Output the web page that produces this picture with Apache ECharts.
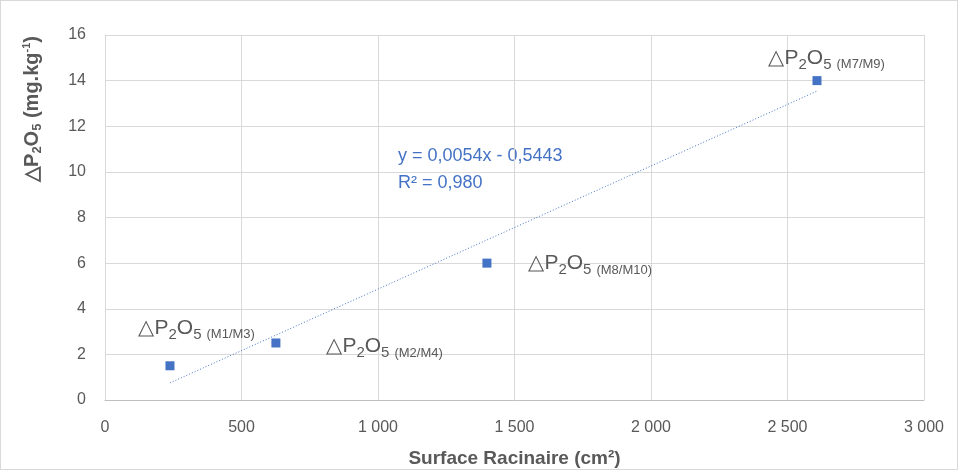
<!DOCTYPE html>
<html>
<head>
<meta charset="utf-8">
<script src="https://cdn.jsdelivr.net/npm/echarts@6/dist/echarts.min.js"></script>
<style>
  html, body { margin: 0; padding: 0; background: #fff; }
  #box { width: 956px; height: 468px; border: 1px solid #d9d9d9; }
</style>
</head>
<body>
<div id="box"></div>
<script>
var dom = document.getElementById("box");
var myChart = echarts.init(dom);

// valeurs
var surface = [238, 626, 1399, 2608];
var deltaP = [1.5, 2.5, 6, 14];
var pointNames = ['M1/M3', 'M2/M4', 'M8/M10', 'M7/M9'];
// décalage des étiquettes par rapport au point
var labelPos = [[-27, -33], [55, 8], [46, 5], [-44, -18]];
// extrémités de la courbe de tendance
var trendX = [238, 2608];
var trendY = [0.75, 13.54];
var equation = 'y = 0,0054x - 0,5443';
var r2 = 'R² = 0,980';

var gray = '#595959';
var blue = '#4472c4';
var font = 'Liberation Sans';

var richLabel = {
    a: { fontSize: 21, color: gray, fontFamily: font },
    s: { fontSize: 15, color: gray, fontFamily: font, padding: [13, 0, 0, 0] },
    m: { fontSize: 13, color: gray, fontFamily: font, padding: [13, 0, 0, 5] }
};

var scatterData = surface.map(function (x, i) {
    return {
        value: [x, deltaP[i]],
        label: {
            show: true,
            position: labelPos[i],
            align: 'left',
            verticalAlign: 'middle',
            formatter: '{a|△P}{s|2}{a|O}{s|5}{m|(' + pointNames[i] + ')}',
            rich: richLabel
        }
    };
});

var option = {
    animation: false,
    textStyle: { fontFamily: font },
    grid: { left: 104, right: 33, top: 34, bottom: 69, outerBoundsMode: 'none', containLabel: false },
    xAxis: {
        type: 'value',
        min: 0, max: 3000, interval: 500,
        name: 'Surface Racinaire (cm²)',
        nameLocation: 'middle',
        nameGap: 49,
        nameTextStyle: { color: gray, fontSize: 19, fontWeight: 'bold', fontFamily: font },
        axisLine: { show: true, lineStyle: { color: '#bfbfbf' } },
        axisTick: { show: false },
        axisLabel: {
            color: gray, fontSize: 16, margin: 20,
            formatter: function (v) {
                return v >= 1000 ? Math.floor(v / 1000) + ' ' + String(v % 1000).padStart(3, '0') : String(v);
            }
        },
        splitLine: { show: true, lineStyle: { color: '#d9d9d9' } }
    },
    yAxis: {
        type: 'value',
        min: 0, max: 16, interval: 2,
        axisLine: { show: true, lineStyle: { color: '#d9d9d9' } },
        axisTick: { show: false },
        axisLabel: { color: gray, fontSize: 16, margin: 19 },
        splitLine: { show: true, lineStyle: { color: '#d9d9d9' } }
    },
    graphic: [
        {
            type: 'text',
            x: 31, y: 108,
            rotation: Math.PI / 2,
            style: {
                text: '{b|△P}{bs|2}{b|O}{bs|5}{b| (mg.kg}{sup|-1}{b|)}',
                align: 'center',
                verticalAlign: 'middle',
                rich: {
                    b: { fontSize: 20, fontWeight: 'bold', fill: gray, fontFamily: font },
                    bs: { fontSize: 13, fontWeight: 'bold', fill: gray, fontFamily: font, padding: [10, 0, 0, 0] },
                    sup: { fontSize: 11, fontWeight: 'bold', fill: gray, fontFamily: font, padding: [0, 0, 10, 0] }
                }
            }
        },
        {
            type: 'text',
            left: 397, top: 146,
            style: { text: equation, fontSize: 18, fill: blue, fontFamily: font }
        },
        {
            type: 'text',
            left: 397, top: 173,
            style: { text: r2, fontSize: 18, fill: blue, fontFamily: font }
        }
    ],
    series: [
        {
            name: 'tendance',
            type: 'line',
            data: [[trendX[0], trendY[0]], [trendX[1], trendY[1]]],
            symbol: 'none',
            lineStyle: { color: blue, width: 1, type: [1, 2] },
            silent: true,
            z: 1
        },
        {
            name: 'points',
            type: 'scatter',
            symbol: 'rect',
            symbolSize: 9,
            itemStyle: { color: blue, opacity: 1 },
            data: scatterData,
            z: 3
        }
    ]
};

myChart.setOption(option);
</script>
</body>
</html>
